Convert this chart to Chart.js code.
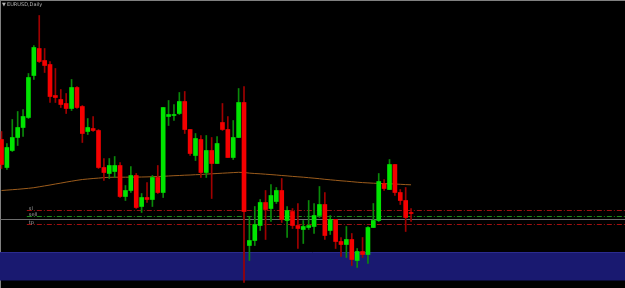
<!DOCTYPE html>
<html>
<head>
<meta charset="utf-8">
<script src="https://cdn.jsdelivr.net/npm/chart.js@4.4.1/dist/chart.umd.min.js"></script>
<style>
html, body { margin: 0; padding: 0; background: #000; }
canvas { display: block; }
</style>
</head>
<body>
<canvas id="graphic" width="625" height="288"></canvas>
<script>
var symbol = 'EURUSD,Daily';

// daily bars, oldest first
var opens = [1.0861, 1.0833, 1.0850, 1.0863, 1.0873, 1.0883, 1.0925, 1.0952, 1.0940, 1.0936,
    1.0905, 1.0901, 1.0897, 1.0892, 1.0913, 1.0894, 1.0869, 1.0872, 1.0870, 1.0833,
    1.0827, 1.0829, 1.0835, 1.0804, 1.0810, 1.0825, 1.0794, 1.0803, 1.0801, 1.0823,
    1.0808, 1.0884, 1.0885, 1.0887, 1.0899, 1.0871, 1.0845, 1.0861, 1.0828, 1.0850,
    1.0837, 1.0878, 1.0871, 1.0843, 1.0863, 1.0898, 1.0755, 1.0760, 1.0775, 1.0798,
    1.0792, 1.0799, 1.0810, 1.0780, 1.0789, 1.0775, 1.0771, 1.0773, 1.0774, 1.0785,
    1.0796, 1.0770, 1.0781, 1.0759, 1.0756, 1.0761, 1.0740, 1.0749, 1.0746, 1.0773,
    1.0780, 1.0817, 1.0811, 1.0836, 1.0808, 1.0800, 1.0788];
var highs = [1.0869, 1.0857, 1.0881, 1.0889, 1.0891, 1.0927, 1.0955, 1.0985, 1.0952, 1.0939,
    1.0932, 1.0911, 1.0907, 1.0921, 1.0914, 1.0895, 1.0882, 1.0884, 1.0871, 1.0842,
    1.0842, 1.0844, 1.0838, 1.0815, 1.0834, 1.0827, 1.0807, 1.0818, 1.0825, 1.0835,
    1.0893, 1.0900, 1.0896, 1.0908, 1.0909, 1.0871, 1.0867, 1.0865, 1.0865, 1.0863,
    1.0864, 1.0897, 1.0884, 1.0880, 1.0912, 1.0914, 1.0784, 1.0794, 1.0801, 1.0810,
    1.0816, 1.0813, 1.0822, 1.0794, 1.0792, 1.0797, 1.0780, 1.0800, 1.0797, 1.0814,
    1.0808, 1.0785, 1.0781, 1.0763, 1.0774, 1.0767, 1.0752, 1.0763, 1.0774, 1.0797,
    1.0827, 1.0821, 1.0841, 1.0836, 1.0811, 1.0813, 1.0792];
var lows = [1.0832, 1.0831, 1.0849, 1.0855, 1.0864, 1.0882, 1.0921, 1.0938, 1.0928, 1.0898,
    1.0898, 1.0893, 1.0887, 1.0890, 1.0892, 1.0858, 1.0866, 1.0869, 1.0832, 1.0820,
    1.0822, 1.0823, 1.0803, 1.0800, 1.0808, 1.0792, 1.0788, 1.0798, 1.0794, 1.0807,
    1.0803, 1.0875, 1.0880, 1.0886, 1.0867, 1.0845, 1.0840, 1.0823, 1.0823, 1.0802,
    1.0837, 1.0870, 1.0843, 1.0841, 1.0863, 1.0718, 1.0740, 1.0755, 1.0770, 1.0761,
    1.0779, 1.0797, 1.0778, 1.0763, 1.0772, 1.0752, 1.0757, 1.0771, 1.0767, 1.0783,
    1.0761, 1.0766, 1.0752, 1.0744, 1.0743, 1.0735, 1.0733, 1.0743, 1.0737, 1.0773,
    1.0779, 1.0810, 1.0811, 1.0805, 1.0796, 1.0769, 1.0779];
var closes = [1.0836, 1.0853, 1.0863, 1.0873, 1.0884, 1.0923, 1.0953, 1.0939, 1.0935, 1.0904,
    1.0903, 1.0896, 1.0892, 1.0913, 1.0893, 1.0867, 1.0873, 1.0870, 1.0833, 1.0828,
    1.0835, 1.0835, 1.0804, 1.0810, 1.0825, 1.0793, 1.0803, 1.0801, 1.0823, 1.0808,
    1.0893, 1.0886, 1.0886, 1.0899, 1.0871, 1.0847, 1.0862, 1.0828, 1.0850, 1.0837,
    1.0857, 1.0871, 1.0843, 1.0863, 1.0898, 1.0789, 1.0760, 1.0776, 1.0798, 1.0791,
    1.0805, 1.0810, 1.0781, 1.0790, 1.0775, 1.0772, 1.0774, 1.0775, 1.0785, 1.0796,
    1.0765, 1.0781, 1.0759, 1.0756, 1.0761, 1.0741, 1.0749, 1.0746, 1.0773, 1.0780,
    1.0819, 1.0812, 1.0836, 1.0808, 1.0800, 1.0783, 1.0787];
// moving average
var ma = [1.08100, 1.08104, 1.08108, 1.08112, 1.08117, 1.08122, 1.08128, 1.08137, 1.08146, 1.08155,
    1.08165, 1.08174, 1.08184, 1.08193, 1.08202, 1.08210, 1.08215, 1.08220, 1.08224, 1.08229,
    1.08232, 1.08233, 1.08233, 1.08233, 1.08234, 1.08234, 1.08235, 1.08236, 1.08238, 1.08240,
    1.08242, 1.08245, 1.08248, 1.08250, 1.08253, 1.08255, 1.08258, 1.08260, 1.08264, 1.08267,
    1.08270, 1.08273, 1.08276, 1.08279, 1.08282, 1.08280, 1.08274, 1.08270, 1.08267, 1.08263,
    1.08259, 1.08255, 1.08250, 1.08246, 1.08241, 1.08237, 1.08233, 1.08228, 1.08223, 1.08218,
    1.08212, 1.08207, 1.08202, 1.08197, 1.08193, 1.08188, 1.08183, 1.08179, 1.08176, 1.08173,
    1.08171, 1.08169, 1.08167, 1.08165, 1.08162, 1.08159, 1.08157];

// trade levels
var levelNames = ['sl', 'sell', 'tp'];
var levelPrices = [1.0790, 1.0784, 1.0776];
var levelColors = ['#a01010', '#1c8c1c', '#a01010'];
var bidPrice = 1.0781;
var zoneTop = 1.0748;
var zoneBottom = 1.0720;

var X_MIN = -0.28, X_MAX = 115.7;
var Y_MIN = 1.07125, Y_MAX = 1.10005;
var LEVEL_FROM = 4.7;

function hline(price, from) {
    return [{x: from, y: price}, {x: X_MAX, y: price}];
}

var bodyColors = closes.map(function (c, i) { return c < opens[i] ? '#f50000' : '#00e400'; });
var wickColors = closes.map(function (c, i) { return c < opens[i] ? '#a00000' : '#0a8a0a'; });

var datasets = [{
    type: 'bar',
    data: opens.map(function (o, i) { return {x: i, y: [o, closes[i]]}; }),
    backgroundColor: bodyColors,
    barThickness: 4,
    minBarLength: 1,
    grouped: false,
    order: 0
}, {
    type: 'bar',
    data: lows.map(function (l, i) { return {x: i, y: [l, highs[i]]}; }),
    backgroundColor: wickColors,
    barThickness: 1,
    grouped: false,
    order: 1
}, {
    type: 'line',
    data: ma.map(function (v, i) { return {x: i, y: v}; }),
    borderColor: '#9c5c1c',
    borderWidth: 1,
    pointRadius: 0,
    order: 2
}];

levelPrices.forEach(function (p, k) {
    datasets.push({
        type: 'line',
        data: hline(p, LEVEL_FROM),
        borderColor: levelColors[k],
        borderWidth: 1,
        borderDash: [5, 2, 1, 2],
        pointRadius: 0,
        order: 3
    });
});

datasets.push({
    type: 'line',
    data: hline(bidPrice, X_MIN),
    borderColor: '#6e6e6e',
    borderWidth: 1,
    pointRadius: 0,
    order: 3
});

datasets.push({
    type: 'line',
    data: hline(zoneTop, X_MIN),
    borderColor: '#2b2b8f',
    borderWidth: 1,
    backgroundColor: '#191970',
    fill: '+1',
    pointRadius: 0,
    order: 4
}, {
    type: 'line',
    data: hline(zoneBottom, X_MIN),
    borderWidth: 0,
    pointRadius: 0,
    order: 4
});

var labelsPlugin = {
    id: 'labels',
    afterDraw: function (chart) {
        var ctx = chart.ctx;
        var y = chart.scales.y;
        var x = chart.scales.x;
        ctx.save();
        ctx.fillStyle = '#b4b4b4';
        ctx.font = '5px "DejaVu Sans"';
        ctx.textBaseline = 'middle';
        ctx.fillText('▼', 2, 5);
        ctx.fillText(symbol, 7, 5);
        ctx.fillStyle = '#a0a0a0';
        levelNames.forEach(function (n, k) {
            ctx.fillText(n, x.getPixelForValue(LEVEL_FROM) + 2, y.getPixelForValue(levelPrices[k]) - 2);
        });
        ctx.restore();
    }
};

var graphic = new Chart(document.getElementById('graphic').getContext('2d'), {
    data: {datasets: datasets},
    options: {
        responsive: false,
        animation: false,
        devicePixelRatio: 1,
        layout: {padding: 0},
        plugins: {legend: {display: false}, tooltip: {enabled: false}},
        scales: {
            x: {
                type: 'linear', position: 'top', min: X_MIN, max: X_MAX, offset: false,
                grid: {display: false, drawTicks: false, offset: false},
                ticks: {display: false},
                border: {color: '#808080', width: 1}
            },
            y: {
                type: 'linear', position: 'left', min: Y_MIN, max: Y_MAX,
                grid: {display: false, drawTicks: false},
                ticks: {display: false},
                border: {color: '#808080', width: 1}
            }
        }
    },
    plugins: [labelsPlugin]
});
</script>
</body>
</html>
